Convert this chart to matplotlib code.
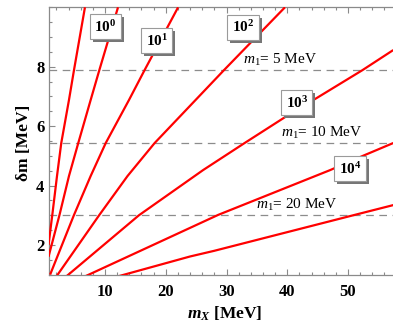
import matplotlib
matplotlib.use("Agg")
import matplotlib.pyplot as plt
from matplotlib.ticker import MultipleLocator, FixedLocator
from matplotlib.patches import Rectangle
import matplotlib.transforms as mtransforms

plt.rcParams['mathtext.fontset'] = 'custom'
plt.rcParams['mathtext.rm'] = 'Liberation Serif:bold'
plt.rcParams['mathtext.bf'] = 'Liberation Serif:bold'
plt.rcParams['mathtext.it'] = 'Liberation Serif:bold:italic'
plt.rcParams['mathtext.sf'] = 'Liberation Serif:italic'
plt.rcParams['mathtext.tt'] = 'Liberation Serif'
plt.rcParams['lines.scale_dashes'] = False

# ---- data ----
line_A_x = [0.70, 1.32, 2.10, 2.80, 4.07, 4.89, 6.70]
line_A_y = [2.00, 3.00, 4.32, 5.43, 6.88, 7.88, 10.0]
line_B_x = [0.70, 2.50, 4.07, 5.60, 7.64, 9.06, 12.14]
line_B_y = [1.60, 3.00, 4.32, 5.43, 6.88, 7.88, 10.0]
line_C_x = [0.97, 4.88, 7.64, 10.12, 13.95, 16.50, 22.03]
line_C_y = [1.00, 3.00, 4.32, 5.43, 6.88, 7.88, 10.0]
line_D_x = [2.04, 9.04, 13.71, 18.17, 29.56, 39.62]
line_D_y = [0.95, 3.00, 4.32, 5.43, 7.88, 10.0]
line_E_x = [3.69, 15.60, 26.15, 32.90, 40.15, 44.88, 52.34, 57.44]
line_E_y = [0.95, 3.00, 4.52, 5.42, 6.37, 6.95, 7.88, 8.56]
line_F_x = [6.82, 28.62, 47.07, 52.00, 57.44]
line_F_y = [0.95, 3.01, 4.52, 4.96, 5.43]
line_G_x = [12.31, 24.00, 27.96, 50.90, 57.44]
line_G_y = [0.95, 1.61, 1.80, 3.00, 3.34]
lines_x = [line_A_x, line_B_x, line_C_x, line_D_x, line_E_x, line_F_x, line_G_x]
lines_y = [line_A_y, line_B_y, line_C_y, line_D_y, line_E_y, line_F_y, line_G_y]

dashed_levels = [7.88, 5.42, 3.00]
dashed_labels = ["5 MeV", "10 MeV", "20 MeV"]
dashed_label_x = [38.8, 45.6, 41.5]

box_labels = [r'$\mathbf{10^{0}}$', r'$\mathbf{10^{1}}$', r'$\mathbf{10^{2}}$',
              r'$\mathbf{10^{3}}$', r'$\mathbf{10^{4}}$']
box_x = [10.08, 18.49, 32.73, 41.55, 50.36]
box_y = [9.34, 8.87, 9.32, 6.79, 4.56]

x_ticks = [10, 20, 30, 40, 50]
y_ticks = [2, 4, 6, 8]

# ---- figure ----
W, H = 393, 325
fig = plt.figure(figsize=(W / 100, H / 100), dpi=100)
left, bottom, top = 48.5, 50.4, 317.7
ax = fig.add_axes([left / W, bottom / H, 1 - left / W, (top - bottom) / H])
ax.set_xlim(0.7, 57.4)
ax.set_ylim(1, 10)

for lx, ly in zip(lines_x, lines_y):
    ax.plot(lx, ly, color='#ff0000', lw=1.6, solid_capstyle='butt',
            solid_joinstyle='round', zorder=3)

for lev, lab, lx in zip(dashed_levels, dashed_labels, dashed_label_x):
    ax.axhline(lev, color='#8c8c8c', lw=0.9, dashes=(5.5, 4.0), zorder=1)
    ax.text(lx, lev + 0.08, r'$\mathsf{m}_{\mathtt{1}}$' + '= ' + lab,
            family='Liberation Serif', fontsize=11, ha='center', va='bottom',
            zorder=2)

box_texts = []
for lab, bx, by in zip(box_labels, box_x, box_y):
    t = ax.text(bx, by, lab, fontsize=11, ha='center', va='center', color='black',
                zorder=5,
                bbox=dict(boxstyle='square,pad=0.3', fc='white', ec='#9a9a9a', lw=0.8))
    box_texts.append(t)

spine_col = '#8a8a8a'
for s in ['left', 'bottom', 'top']:
    ax.spines[s].set_color(spine_col)
    ax.spines[s].set_linewidth(0.9)
ax.spines['right'].set_visible(False)

ax.xaxis.set_major_locator(FixedLocator(x_ticks))
ax.yaxis.set_major_locator(FixedLocator(y_ticks))
ax.xaxis.set_minor_locator(MultipleLocator(2))
ax.yaxis.set_minor_locator(MultipleLocator(0.5))
ax.tick_params(which='both', direction='in', top=True, right=False,
               color=spine_col, width=0.8)
ax.tick_params(which='major', length=4.5)
ax.tick_params(which='minor', length=2.5)
ax.tick_params(axis='x', which='major', pad=7)
ax.tick_params(axis='y', which='major', pad=3)
for t in ax.get_xticklabels() + ax.get_yticklabels():
    t.set_fontfamily('Liberation Serif')
    t.set_fontweight('bold')
    t.set_fontsize(12)

fig.text(225 / W, 1 - 314 / H, r'$m_X$' + ' [MeV]', family='Liberation Serif',
         fontweight='bold', fontsize=12.5, ha='center', va='center')
fig.text(23.5 / W, 1 - 143 / H, 'δm [MeV]', family='Liberation Serif',
         fontweight='bold', fontsize=12.5, ha='center', va='center', rotation=90)

# drop shadows behind the framed labels
fig.canvas.draw()
renderer = fig.canvas.get_renderer()
for t in box_texts:
    bb = t.get_bbox_patch().get_window_extent(renderer)
    shadow = Rectangle((bb.x0 + 3, bb.y0 - 3), bb.width, bb.height,
                       transform=mtransforms.IdentityTransform(),
                       fc='#767676', ec='none', zorder=4, clip_on=False)
    ax.add_artist(shadow)

fig.savefig('out.png', dpi=100)
